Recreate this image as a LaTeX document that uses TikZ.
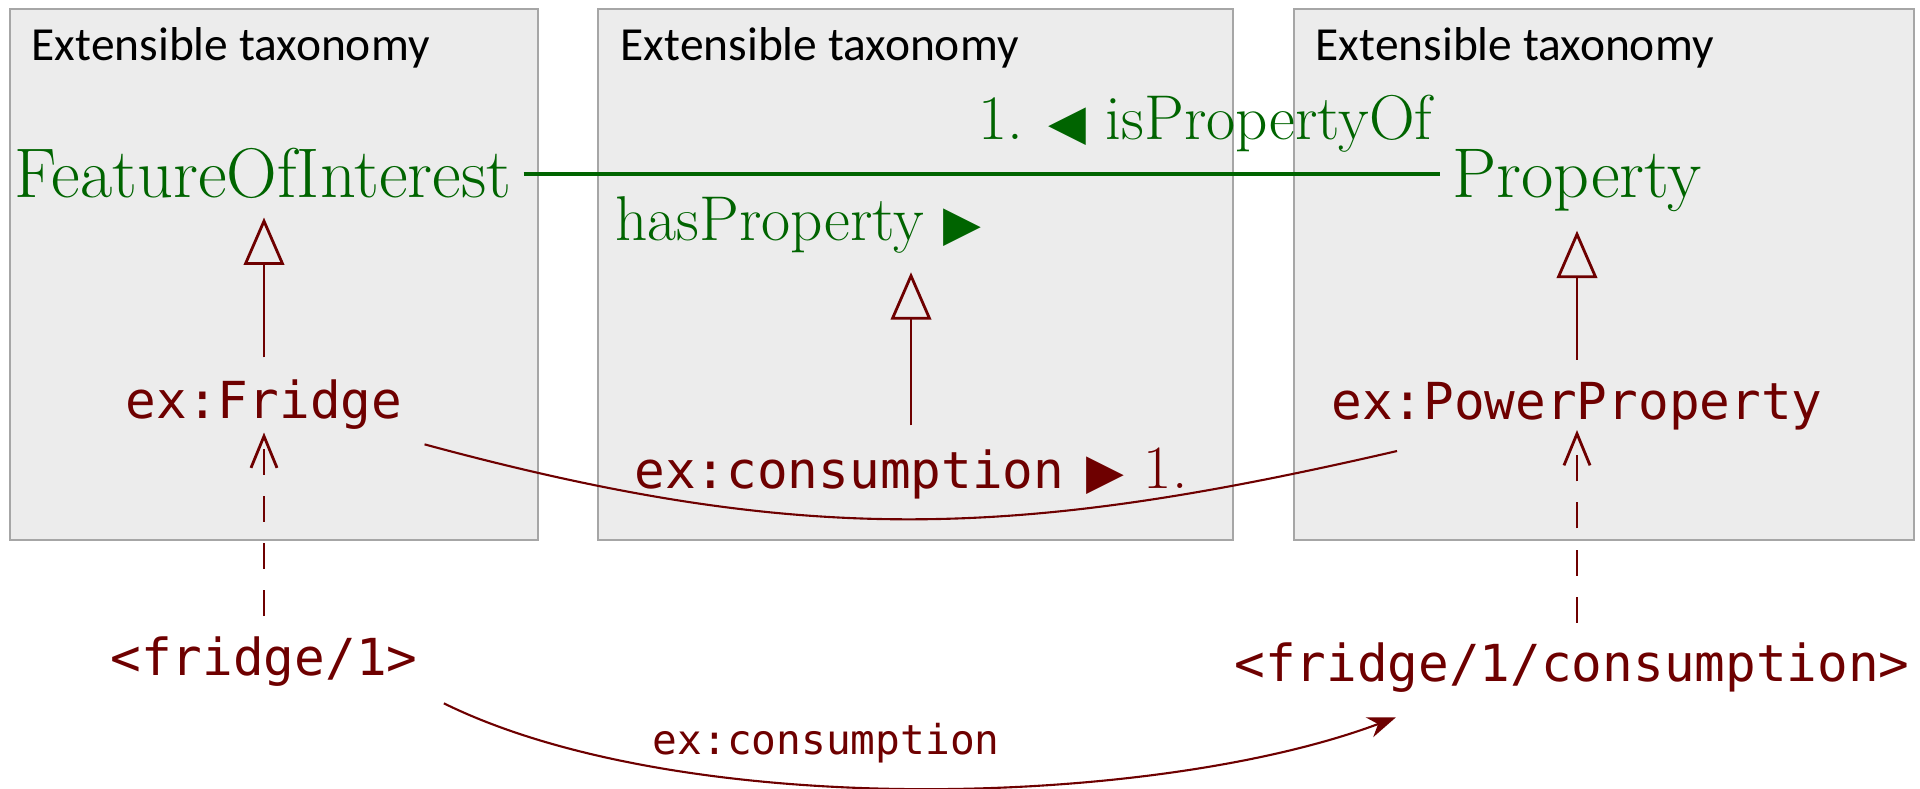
\documentclass[tikz,border=0pt]{standalone}
\usepackage{fontspec}
\newfontfamily\titlefont{Carlito}
\newfontfamily\monof{DejaVu Sans Mono}
\newfontfamily\symf{DejaVu Sans}
\usetikzlibrary{arrows.meta,calc}
\definecolor{boxfill}{HTML}{ECECEC}
\definecolor{boxline}{HTML}{A6A6A6}
\definecolor{dkgreen}{RGB}{0,100,0}
\definecolor{maroon}{RGB}{110,0,0}
\newcommand{\rtri}{{\symf\fontsize{14}{16}\selectfont ▶}}
\newcommand{\ltri}{{\symf\fontsize{14}{16}\selectfont ◀}}
\begin{document}
\begin{tikzpicture}[x=0.01cm,y=-0.01cm,
  taxbox/.style={draw=boxline, fill=boxfill, line width=0.7pt, inner sep=0pt},
  title/.style={anchor=base west, inner sep=0pt, text=black, font=\titlefont\fontsize{13.5}{16}\selectfont},
  cls/.style={text=dkgreen, font=\fontsize{20}{24}\selectfont},
  rel/.style={text=dkgreen, font=\fontsize{18}{21}\selectfont},
  inst/.style={text=maroon, font=\monof\fontsize{14.5}{17}\selectfont},
  small/.style={text=maroon, font=\monof\fontsize{11.7}{14}\selectfont},
  subcls/.style={draw=maroon, line width=0.8pt, shorten <=3pt, shorten >=1.7pt, -{Triangle[open,length=13.5pt,width=11.5pt]}},
  typ/.style={draw=maroon, line width=0.8pt, dash pattern=on 7.4pt off 6pt, -{Straight Barb[length=9pt,width=7.4pt]}},
  link/.style={draw=maroon, line width=0.6pt},
  assoc/.style={draw=dkgreen, line width=1.1pt}
]
\useasboundingbox (0,0) rectangle (1920,789);

% taxonomy boxes
\node[taxbox, minimum width=5.28cm, minimum height=5.31cm] (box1) at (274,274.5) {};
\node[taxbox, minimum width=6.35cm, minimum height=5.31cm] (box2) at (915.5,274.5) {};
\node[taxbox, minimum width=6.20cm, minimum height=5.31cm] (box3) at (1604,274.5) {};
\node[title] (t1) at (31,61) {Extensible taxonomy};
\node[title] (t2) at (620,61) {Extensible taxonomy};
\node[title] (t3) at (1315,61) {Extensible taxonomy};

% classes
\node[cls, anchor=base] (foi) at (263,198) {FeatureOfInterest};
\node[cls, anchor=base] (prop) at (1577,198) {Property};
\draw[assoc] (foi.east) -- (foi.east -| prop.west);
\node[rel, anchor=base east, inner sep=0pt] (isprop) at (1433,140) {1. \ltri{} isPropertyOf};
\node[rel, anchor=base west] (hasprop) at (603,241) {hasProperty \rtri};

% instances
\node[inst, anchor=base] (fridge) at (264,419) {ex:Fridge};
\node[inst, anchor=base] (ppow) at (1577,420) {ex:PowerProperty};
\node[inst, anchor=base] (cons) at (911,489) {ex:consumption\hspace{6.2pt}\rtri\hspace{5.7pt}{\rmfamily\fontsize{17.5}{21}\selectfont 1.}};
\node[inst, anchor=base] (f1) at (264,676) {<fridge/1>};
\node[inst, anchor=base] (fc) at (1572,682) {<fridge/1/consumption>};

% subclass arrows
\draw[subcls] (fridge.north) -- (fridge.north |- foi.south);
\draw[subcls] (cons.north) -- (cons.north |- hasprop.south);
\draw[subcls] (ppow.north) -- (ppow.north |- prop.south);

% type arrows
\draw[typ, shorten <=2.5pt, shorten >=-2.8pt] (f1.north) -- (fridge.south);
\draw[typ, shorten <=2.3pt, shorten >=-3.7pt] (ppow.south |- fc.north) -- (ppow.south);

% links
\draw[link] ([shift={(10,2)}]fridge.south east) .. controls +(381,103) and +(-381,88) .. ([xshift=0.78cm,yshift=-0.08cm]ppow.south west);
\draw[link, -{Stealth[length=8pt,width=6pt]}] ([shift={(14,4)}]f1.south east) .. controls +(240,118) and +(-240,90) .. ([shift={(174,12)}]fc.south west)
  node[small, pos=0.412, above=3pt] (lbl) {ex:consumption};
\end{tikzpicture}
\end{document}
